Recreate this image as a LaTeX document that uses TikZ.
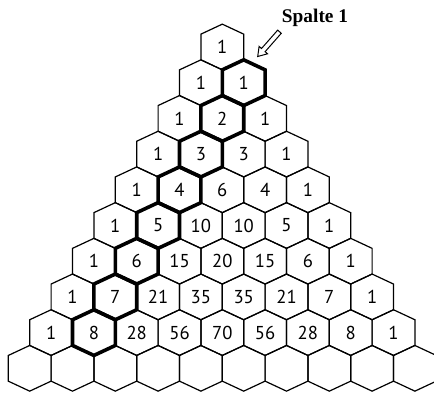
\documentclass[tikz,border=0pt]{standalone}
\usepackage{fontspec}
\setsansfont{PT Sans}
\newfontfamily\spaltefont{Liberation Serif}

\newcommand{\hexcell}[2]{(#1) +(0,22.85) -- +(21.4,12.85) -- +(21.4,-12.85) -- +(0,-22.85) -- +(-21.4,-12.85) -- +(-21.4,12.85) -- cycle}

\begin{document}
\begin{tikzpicture}[
  x=0.75pt, y=0.75pt,
  hexline/.style={line width=0.9pt, line join=miter},
  colline/.style={line width=2.7pt, line join=miter},
  num/.style={font=\sffamily\fontsize{14}{16}\selectfont, inner sep=0pt},
  spalte/.style={font=\spaltefont\bfseries\fontsize{14.5}{17}\selectfont, inner sep=0pt},
  fatarrow/.style={draw, fill=white, line width=0.75pt, line join=miter}
]
\useasboundingbox (0,0) rectangle (434,392);

% hexagon grid
\foreach \r in {0,...,9}{
  \foreach \k in {0,...,\r}{
    \coordinate (c\r-\k) at ({222.3+(\k-\r/2)*42.8},{345-35.7*\r});
    \draw[hexline] \hexcell{c\r-\k}{};
  }
}

% column 1
\foreach \r in {1,...,8}
  \draw[colline] \hexcell{c\r-1}{};

% binomial coefficients
\foreach \r/\vals in {0/{1},1/{1,1},2/{1,2,1},3/{1,3,3,1},4/{1,4,6,4,1},
    5/{1,5,10,10,5,1},6/{1,6,15,20,15,6,1},7/{1,7,21,35,35,21,7,1},
    8/{1,8,28,56,70,56,28,8,1}}
  \foreach \v [count=\k from 0] in \vals
    \node[num] (n\r-\k) at (c\r-\k) {\v};

% label
\node[spalte, anchor=base west] (spalte) at (281.7,369.3) {Spalte 1};
\coordinate (atip) at (257.7,335.5);
\draw[fatarrow, shift={(atip)}, rotate=228.7]
  (0,0) -- (-8.5,5.6) -- (-8.5,2.4) -- (-33,2.4) -- (-33,-2.4) -- (-8.5,-2.4) -- (-8.5,-5.6) -- cycle;
\end{tikzpicture}
\end{document}
